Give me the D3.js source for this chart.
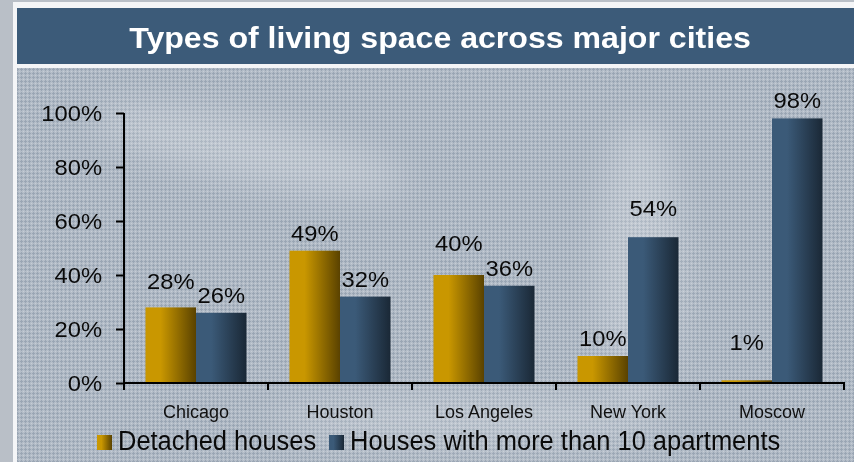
<!DOCTYPE html>
<html>
<head>
<meta charset="utf-8">
<script src="https://cdn.jsdelivr.net/npm/d3@7"></script>
<style>
  html, body { margin: 0; padding: 0; background: #b8bec6; }
  svg { display: block; }
  text { font-family: "Liberation Sans", Arial, sans-serif; }
</style>
</head>
<body>
<svg id="chart" width="854" height="462"></svg>
<script>
// Chart data
const title = "Types of living space across major cities";
const cities = ["Chicago", "Houston", "Los Angeles", "New York", "Moscow"];
const seriesNames = ["Detached houses", "Houses with more than 10 apartments"];
const detached = [28, 49, 40, 10, 1];
const apartments = [26, 32, 36, 54, 98];
const yTicks = [0, 20, 40, 60, 80, 100];

const W = 854, H = 462;
const svg = d3.select("#chart");
const defs = svg.append("defs");

// Fine cross-hatch texture for the plot panel
const pat = defs.append("pattern")
  .attr("id", "dots").attr("width", 4).attr("height", 4)
  .attr("patternUnits", "userSpaceOnUse");
pat.append("rect").attr("width", 4).attr("height", 4).attr("fill", "#b4bdc8");
pat.append("rect").attr("x", 1).attr("y", 0).attr("width", 1).attr("height", 3).attr("fill", "#9aa6b4");
pat.append("rect").attr("x", 0).attr("y", 1).attr("width", 3).attr("height", 1).attr("fill", "#9aa6b4");
pat.append("rect").attr("x", 3).attr("y", 3).attr("width", 1).attr("height", 1).attr("fill", "#c6cdd6");

// Soft haze shapes on the panel
const haze = defs.append("filter").attr("id", "haze").attr("x", "-50%").attr("y", "-50%").attr("width", "200%").attr("height", "200%");
haze.append("feGaussianBlur").attr("stdDeviation", 18);

// Bar gradients (light left edge shading to dark right edge)
function barGradient(id, light, dark) {
  const g = defs.append("linearGradient").attr("id", id)
    .attr("x1", "0%").attr("x2", "100%").attr("y1", "0%").attr("y2", "0%");
  g.append("stop").attr("offset", "0%").attr("stop-color", light);
  g.append("stop").attr("offset", "30%").attr("stop-color", light);
  g.append("stop").attr("offset", "100%").attr("stop-color", dark);
}
barGradient("gOrange", "#c99700", "#5a4200");
barGradient("gBlue", "#3b5a78", "#1a2836");
const fills = ["url(#gOrange)", "url(#gBlue)"];

// Frame: grey strip, white border, title bar, textured panel
svg.append("rect").attr("width", W).attr("height", H).attr("fill", "#b9bfc7");
svg.append("rect").attr("x", 13).attr("y", 2).attr("width", W - 13).attr("height", H - 2).attr("fill", "#f4f5f7");
svg.append("rect").attr("x", 17).attr("y", 8).attr("width", W - 17).attr("height", 56).attr("fill", "#3c5b79");
svg.append("rect").attr("x", 17).attr("y", 68).attr("width", W - 17).attr("height", H - 68).attr("fill", "url(#dots)");

const hazeG = svg.append("g").attr("filter", "url(#haze)").attr("opacity", 0.22);
hazeG.append("ellipse").attr("cx", 250).attr("cy", 150).attr("rx", 160).attr("ry", 30).attr("fill", "#ffffff").attr("transform", "rotate(12 250 150)");
hazeG.append("ellipse").attr("cx", 640).attr("cy", 260).attr("rx", 40).attr("ry", 140).attr("fill", "#ffffff");
hazeG.append("ellipse").attr("cx", 470).attr("cy", 420).attr("rx", 200).attr("ry", 22).attr("fill", "#ffffff");

// Title
svg.append("text")
  .attr("transform", "translate(440,48) scale(1.07,1)")
  .attr("text-anchor", "middle")
  .attr("font-size", 30).attr("font-weight", "bold").attr("fill", "#ffffff")
  .text(title);

// Scales
const x0 = d3.scaleBand().domain(cities).range([124, 844]).paddingInner(0).paddingOuter(0);
const inner = 101;
const x1 = d3.scaleBand().domain([0, 1]).range([0, inner]).padding(0);
const y = d3.scaleLinear().domain([0, 100]).range([383, 113]);

// Bars
const groups = svg.append("g").selectAll("g").data(cities).join("g")
  .attr("transform", d => `translate(${x0(d) + (x0.bandwidth() - inner) / 2},0)`);

const series = [detached, apartments];
groups.selectAll("rect")
  .data((d, i) => series.map((s, k) => ({ k, v: s[i] })))
  .join("rect")
  .attr("x", d => x1(d.k))
  .attr("width", x1.bandwidth())
  .attr("y", d => y(d.v))
  .attr("height", d => y(0) - y(d.v))
  .attr("fill", d => fills[d.k]);

// Value labels (some lifted to clear neighbouring labels)
const lift = [[8, 0], [0, 0], [14, 0], [0, 11], [20, 0]];
groups.each(function (city, i) {
  const g = d3.select(this);
  series.forEach((s, k) => {
    const cx = x1(k) + x1.bandwidth() / 2;
    const by = y(s[i]) - 10 - lift[i][k];
    g.append("text")
      .attr("transform", `translate(${cx},${by}) scale(1.08,1)`)
      .attr("text-anchor", "middle")
      .attr("font-size", 22).attr("fill", "#0a0a0a")
      .text(s[i] + "%");
  });
});

// Y axis
const yAxis = d3.axisLeft(y).tickValues(yTicks).tickSize(8).tickFormat(d => d + "%");
const yG = svg.append("g").attr("transform", "translate(124,0)").call(yAxis);
yG.select(".domain").attr("stroke", "#000").attr("stroke-width", 2).attr("d", "M0,113V383");
yG.selectAll(".tick line").attr("stroke", "#000").attr("stroke-width", 2);
yG.selectAll(".tick text")
  .attr("font-size", 22).attr("fill", "#0a0a0a")
  .attr("x", null).attr("dy", null)
  .attr("dominant-baseline", "central")
  .attr("transform", "translate(-22,0) scale(1.08,1)");

// X axis
const xAxis = d3.axisBottom(x0).tickSize(0).tickSizeOuter(0);
const xG = svg.append("g").attr("transform", "translate(0,383)").call(xAxis);
xG.select(".domain").attr("stroke", "#000").attr("stroke-width", 2).attr("d", "M123,0H845");
xG.selectAll(".tick text").attr("font-size", 18).attr("fill", "#111").attr("y", 35).attr("dy", null);
// Boundary ticks between categories
const bounds = cities.map(c => x0(c)).concat([x0(cities[cities.length - 1]) + x0.bandwidth()]);
xG.selectAll(".btick").data(bounds).join("line")
  .attr("class", "btick")
  .attr("x1", d => d).attr("x2", d => d)
  .attr("y1", 0).attr("y2", 7)
  .attr("stroke", "#000").attr("stroke-width", 2);

// Legend
const legend = svg.append("g");
const legendX = [97, 329];
seriesNames.forEach((name, k) => {
  legend.append("rect")
    .attr("x", legendX[k]).attr("y", 435).attr("width", 15).attr("height", 15)
    .attr("fill", fills[k]);
  legend.append("text")
    .attr("transform", `translate(${legendX[k] + 21},450) scale(0.91,1)`)
    .attr("font-size", 28).attr("fill", "#0a0a0a")
    .text(name);
});
</script>
</body>
</html>
